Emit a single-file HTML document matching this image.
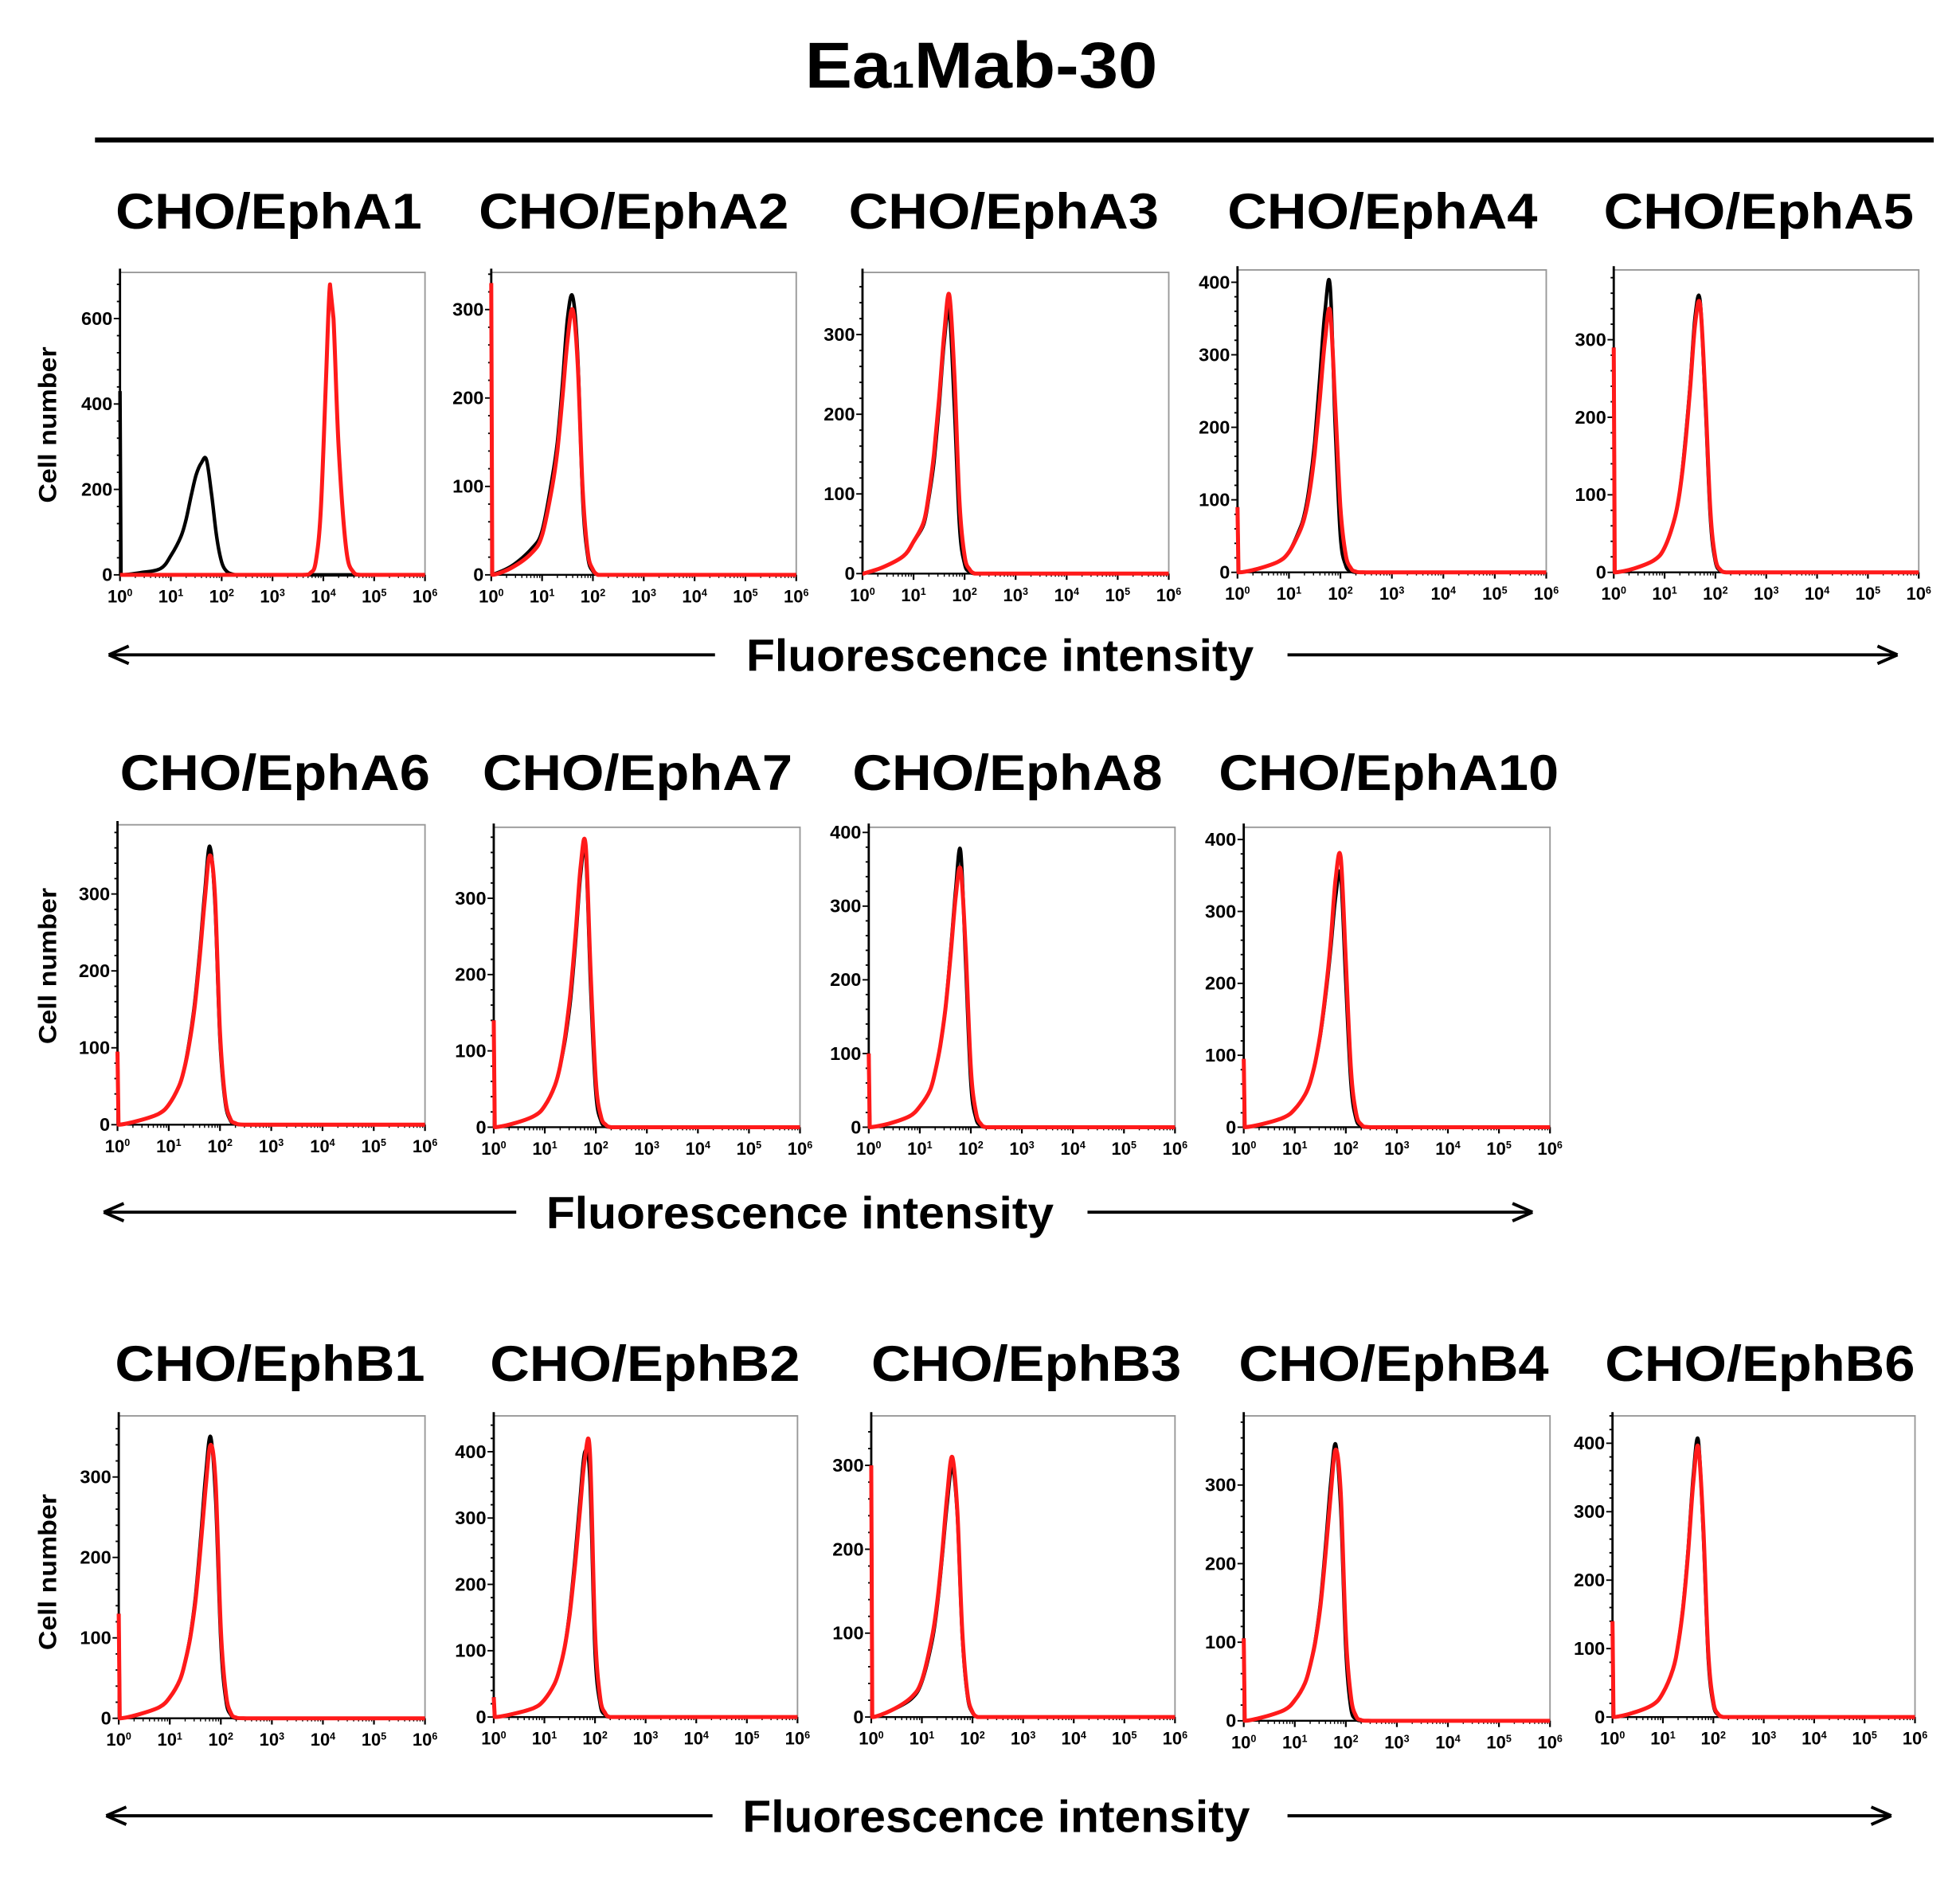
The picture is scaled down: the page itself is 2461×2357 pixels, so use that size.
<!DOCTYPE html>
<html><head><meta charset="utf-8"><title>Ea1Mab-30 flow cytometry</title>
<style>
html,body{margin:0;padding:0;background:#fff;}
svg{display:block;}
text{font-family:"Liberation Sans",Arial,sans-serif;font-weight:bold;fill:#000;}
</style></head>
<body>
<svg id="fig" width="2461" height="2357" viewBox="0 0 1568 1502" preserveAspectRatio="none" xmlns="http://www.w3.org/2000/svg">
  <text x="785" y="70" text-anchor="middle" font-size="52" textLength="282" lengthAdjust="spacingAndGlyphs">Ea<tspan font-size="30">1</tspan>Mab-30</text>
  <rect x="76" y="110" width="1471" height="4" fill="#000"/>
  <g id="panels"></g>
  <g id="decor"></g>
</svg>
<script>
// Shared log10 grid for histogram samples
const grid = [0,0.02,0.4,0.8,1.0,1.2,1.3,1.4,1.5,1.6,1.7,1.8,1.9,2.0,2.1,2.2,2.3,2.5,6];
const panelTitles = ["CHO/EphA1","CHO/EphA2","CHO/EphA3","CHO/EphA4","CHO/EphA5","CHO/EphA6","CHO/EphA7","CHO/EphA8","CHO/EphA10","CHO/EphB1","CHO/EphB2","CHO/EphB3","CHO/EphB4","CHO/EphB6"];
const yMaxes = [708,342,378,417,390,390,393,407,417,376,454,359,388,440];
const yTickSteps = [200,100,100,100,100,100,100,100,100,100,100,100,100,100];
const xTickExps = ["0","1","2","3","4","5","6"];
const blackSeries = [
 [430,0,5,15,45,90,130,185,235,262,270,190,90,30,8,2,0,0,0],
 [0,0,10,30,50,110,150,215,290,315,250,85,20,4,0,0,0,0,0],
 [0,0,8,22,40,62,95,140,210,290,330,210,60,12,2,0,0,0,0],
 [90,0,5,15,28,58,80,120,180,270,360,395,200,50,10,2,0,0,0],
 [290,0,5,16,32,70,105,165,240,330,350,220,70,14,2,0,0,0,0],
 [95,0,5,14,26,50,72,108,155,222,300,362,290,110,30,6,1,0,0],
 [140,0,5,15,28,55,80,115,165,240,330,360,180,45,8,1,0,0,0],
 [100,0,5,15,28,50,75,110,160,235,320,375,220,60,12,2,0,0,0],
 [95,0,5,14,25,45,62,90,128,180,245,320,350,200,60,12,2,0,0],
 [130,0,5,14,26,48,70,102,150,220,300,350,270,95,22,4,0,0,0],
 [30,0,5,14,26,50,72,105,160,235,325,400,360,100,20,3,0,0,0],
 [300,0,8,22,42,90,130,190,255,298,240,95,25,5,0,0,0,0,0],
 [105,0,5,14,26,48,70,102,150,220,300,352,270,90,15,2,0,0,0],
 [140,0,6,18,35,70,105,162,245,350,405,270,85,18,3,0,0,0,0]
];
const redSeries = [
 null,
 [330,0,8,25,45,100,140,200,265,300,240,95,25,6,0,0,0,0,0],
 [0,0,8,22,40,65,100,150,220,300,350,250,90,22,5,0,0,0,0],
 [90,0,5,15,28,55,75,110,165,240,320,360,230,90,25,6,1,0,0],
 [290,0,5,16,32,70,105,160,235,320,345,230,80,18,3,0,0,0,0],
 [95,0,5,14,26,50,72,105,150,215,290,350,300,120,35,8,2,0,0],
 [140,0,5,15,28,55,80,120,175,250,340,370,200,60,14,3,0,0,0],
 [100,0,5,15,28,50,75,110,160,230,310,350,240,80,20,4,0,0,0],
 [95,0,5,14,25,45,62,90,130,185,255,345,375,230,80,20,4,0,0],
 [130,0,5,14,26,48,70,100,145,210,285,340,290,110,30,6,1,0,0],
 [30,0,5,14,26,50,72,105,155,225,310,390,400,130,30,6,0,0,0],
 [300,0,8,24,44,95,135,195,265,310,245,100,28,6,0,0,0,0,0],
 [105,0,5,14,26,48,70,100,145,210,285,345,290,110,30,6,1,0,0],
 [140,0,6,18,35,70,105,160,240,340,395,280,95,22,4,0,0,0,0]
];
// EphA1 red (shifted positive population) on its own log grid
const a1RedGrid = [0,3.0,3.6,3.75,3.85,3.95,4.05,4.13,4.2,4.3,4.45,4.6,4.75,5.3,6];
const a1RedValues = [0,0,0,5,30,150,450,680,600,300,60,5,0,0,0];

// Layout (display coordinates)
const boxes = [
 [96,218,244,242],[393,218,244,242],[690,218,245,241],[990,216,247,242],[1291,216,244,242],
 [94,660,246,240],[395,662,245,240],[695,662,245,240],[995,662,245,240],
 [95,1133,245,242],[395,1133,243,241],[697,1133,243,241],[995,1133,245,244],[1290,1133,242,241]
];
const titleLayout = [
 [215,183,245],[507,183,248],[803,183,248],[1106,183,248],[1407,183,248],
 [220,632,248],[510,632,248],[806,632,248],[1111,632,272],
 [216,1105,248],[516,1105,248],[821,1105,248],[1115,1105,248],[1408,1105,248]
];
const NS="http://www.w3.org/2000/svg";
const root=document.getElementById('panels');
function mk(tag,attrs,parent){const e=document.createElementNS(NS,tag);for(const k in attrs)e.setAttribute(k,attrs[k]);(parent||root).appendChild(e);return e;}
function smoothPath(pts){
  let d='M'+pts[0][0].toFixed(1)+','+pts[0][1].toFixed(1);
  for(let k=0;k<pts.length-1;k++){
    const p0=pts[k-1]||pts[k],p1=pts[k],p2=pts[k+1],p3=pts[k+2]||p2;
    const flat=(p1[1]===p2[1]);
    const t=(p2[0]-p1[0]<3||flat)?0:1/6;
    let c1y=p1[1]+(p2[1]-p0[1])*t, c2y=p2[1]-(p3[1]-p1[1])*t;
    const lo=Math.max(p1[1],p2[1]);
    c1y=Math.min(c1y,lo); c2y=Math.min(c2y,lo);
    let c1x=p1[0]+(p2[0]-p0[0])*t, c2x=p2[0]-(p3[0]-p1[0])*t;
    c1x=Math.min(Math.max(c1x,p1[0]),p2[0]); c2x=Math.min(Math.max(c2x,p1[0]),p2[0]);
    d+=` C${c1x.toFixed(1)},${c1y.toFixed(1)} ${c2x.toFixed(1)},${c2y.toFixed(1)} ${p2[0].toFixed(1)},${p2[1].toFixed(1)}`;
  }
  return d;
}

panelTitles.forEach((title,i)=>{
  const [L,T,W,H]=boxes[i];
  const B=T+H;
  const ymax=yMaxes[i];
  const xs=lg=>L+lg/6*W;
  const ys=v=>B-v/ymax*H;
  const g=mk('g',{});
  
  
  const [tx,ty,tl]=titleLayout[i];
  const t=mk('text',{x:tx,y:ty,'text-anchor':'middle','font-size':40,textLength:tl,lengthAdjust:'spacingAndGlyphs'},g);
  
  
  t.textContent=title;
  const box=mk('rect',{x:L,y:T,width:W,height:H,fill:'none',stroke:'#999','stroke-width':1.2},g);
  
  
  const yax=mk('line',{x1:L,y1:T-3,x2:L,y2:B,stroke:'#000','stroke-width':1.8},g);
  
  
  const xax=mk('line',{x1:L,y1:B,x2:L+W,y2:B,stroke:'#000','stroke-width':1.5},g);
  
  
  const step=yTickSteps[i];
  for(let v=0;v<=ymax;v+=step/5){
    const major=Math.abs(v/step-Math.round(v/step))<1e-6;
    const tk=mk('line',{x1:L-(major?5:2.5),y1:ys(v),x2:L,y2:ys(v),stroke:'#000','stroke-width':1.2},g);
    
    
    if(major){
      const lb=mk('text',{x:L-6,y:ys(v)+5,'text-anchor':'end','font-size':15},g);
      
      
      lb.textContent=String(Math.round(v));
    }
  }
  xTickExps.forEach((e,d)=>{
    const x=xs(d);
    const tk=mk('line',{x1:x,y1:B,x2:x,y2:B+5,stroke:'#000','stroke-width':1.4},g);
    
    
    if(d<6){for(let m=2;m<10;m++){const mx=xs(d+Math.log10(m));
      const mt=mk('line',{x1:mx,y1:B,x2:mx,y2:B+2.5,stroke:'#000','stroke-width':0.9},g);
      
      }}
    const lb=mk('text',{x:x,y:B+22,'text-anchor':'middle','font-size':14},g);
    
    
    lb.innerHTML='10<tspan font-size="8" dy="-5">'+e+'</tspan>';
  });
  const path=(gx,vals)=>smoothPath(gx.map((lg,k)=>[xs(lg),ys(vals[k])]));
  const bl=mk('path',{d:path(grid,blackSeries[i]),fill:'none',stroke:'#000','stroke-width':2.8,'stroke-linejoin':'round'},g);
  
  
  const rd=i===0?path(a1RedGrid,a1RedValues):path(grid,redSeries[i]);
  const rl=mk('path',{d:rd,fill:'none',stroke:'#ff1a1a','stroke-width':3.2,'stroke-linejoin':'round'},g);
  
  
});

// Axis annotations
const decor=document.getElementById('decor');
const arrowRows=[[524,87,572,800,1030,1518],[970,83,413,640,870,1226],[1453,85,570,797,1030,1513]];
const cellLabelY=[340,773,1258];
arrowRows.forEach(([y,l1,l2,tc,r1,r2])=>{
  const a=mk('line',{x1:l1+2,y1:y,x2:l2,y2:y,stroke:'#000','stroke-width':2.5},decor);
  
  
  const ah=mk('path',{d:`M${l1},${y} L${l1+16},${y-7} M${l1},${y} L${l1+16},${y+7}`,stroke:'#000','stroke-width':2.5,fill:'none'},decor);
  
  
  const t=mk('text',{x:tc,y:y+13,'text-anchor':'middle','font-size':36,textLength:406,lengthAdjust:'spacingAndGlyphs'},decor);
  
  
  t.textContent='Fluorescence intensity';
  const b=mk('line',{x1:r1,y1:y,x2:r2-2,y2:y,stroke:'#000','stroke-width':2.5},decor);
  
  
  const bh=mk('path',{d:`M${r2},${y} L${r2-16},${y-7} M${r2},${y} L${r2-16},${y+7}`,stroke:'#000','stroke-width':2.5,fill:'none'},decor);
  
  
});
cellLabelY.forEach(y=>{
  const t=mk('text',{x:0,y:0,'text-anchor':'middle','font-size':20,transform:`translate(45,${y}) rotate(-90)`,textLength:125,lengthAdjust:'spacingAndGlyphs'},decor);
  
  
  t.textContent='Cell number';
});
</script>
</body></html>
